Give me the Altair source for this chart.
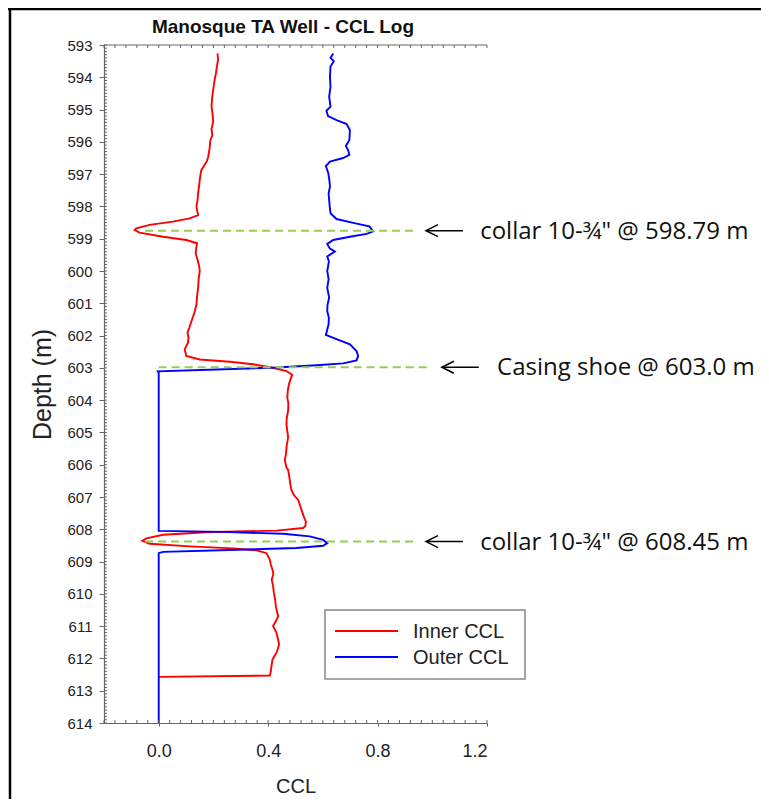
import altair as alt
import pandas as pd

# ---------------- data ----------------
chart_title = "Manosque TA Well - CCL Log"
series_names = ["Inner CCL", "Outer CCL"]
series_colors = ["#ff0000", "#0000ff"]

inner_depth = [593.26, 593.45, 593.65, 593.88, 594.1, 594.4, 594.65, 594.91, 595.15, 595.38,
               595.6, 595.8, 595.94, 596.2, 596.46, 596.6, 596.71, 596.87, 597.0, 597.18,
               597.4, 597.59, 597.8, 598.0, 598.15, 598.27, 598.37, 598.47, 598.57, 598.68,
               598.73, 598.81, 598.94, 599.04, 599.14, 599.3, 599.45, 599.65, 599.86, 600.0,
               600.25, 600.52, 600.8, 601.03, 601.3, 601.55, 601.75, 601.91, 602.05, 602.22,
               602.43, 602.63, 602.74, 602.81, 602.89, 602.99, 603.1, 603.22, 603.35, 603.51,
               603.7, 603.92, 604.1, 604.33, 604.55, 604.75, 604.95, 605.16, 605.4, 605.67,
               605.85, 606.09, 606.16, 606.3, 606.47, 606.6, 606.78, 606.95, 607.09, 607.25,
               607.4, 607.6, 607.76, 607.9, 607.96, 608.04, 608.09, 608.17, 608.28, 608.36,
               608.45, 608.53, 608.59, 608.65, 608.74, 608.94, 609.1, 609.25, 609.4, 609.56,
               609.75, 609.97, 610.2, 610.38, 610.55, 610.69, 610.85, 611.0, 611.2, 611.4,
               611.57, 611.8, 612.03, 612.25, 612.45, 612.53, 612.57]
inner_ccl = [0.215, 0.217, 0.213, 0.209, 0.204, 0.199, 0.195, 0.193, 0.197, 0.199,
             0.193, 0.196, 0.189, 0.186, 0.181, 0.176, 0.168, 0.156, 0.153, 0.150,
             0.147, 0.144, 0.142, 0.138, 0.141, 0.144, 0.113, 0.052, -0.033, -0.082,
             -0.088, -0.070, 0.016, 0.101, 0.140, 0.137, 0.135, 0.142, 0.148, 0.150,
             0.146, 0.144, 0.140, 0.138, 0.130, 0.120, 0.112, 0.105, 0.109, 0.107,
             0.095, 0.101, 0.150, 0.260, 0.345, 0.412, 0.467, 0.488, 0.482, 0.476,
             0.472, 0.470, 0.474, 0.473, 0.468, 0.467, 0.470, 0.473, 0.468, 0.465,
             0.461, 0.467, 0.473, 0.476, 0.479, 0.481, 0.485, 0.495, 0.510, 0.516,
             0.522, 0.530, 0.538, 0.536, 0.528, 0.431, 0.174, 0.016, -0.045, -0.060,
             -0.033, 0.113, 0.272, 0.357, 0.394, 0.406, 0.410, 0.416, 0.419, 0.413,
             0.418, 0.421, 0.426, 0.428, 0.432, 0.437, 0.428, 0.418, 0.430, 0.436,
             0.440, 0.432, 0.416, 0.412, 0.409, 0.406, 0.0]

outer_depth = [593.26, 593.4, 593.5, 593.67, 593.98, 594.29, 594.6, 594.91, 595.04, 595.2,
               595.33, 595.45, 595.64, 595.94, 596.13, 596.25, 596.4, 596.5, 596.61, 596.75,
               596.97, 597.2, 597.38, 597.6, 597.8, 598.0, 598.21, 598.39, 598.51, 598.62,
               598.77, 598.85, 598.94, 599.04, 599.16, 599.3, 599.4, 599.55, 599.7, 599.86,
               600.0, 600.25, 600.52, 600.83, 601.05, 601.24, 601.45, 601.65, 601.85, 601.98,
               602.11, 602.27, 602.48, 602.63, 602.77, 602.86, 602.92, 602.99, 603.05, 603.11,
               603.15, 608.05, 608.08, 608.14, 608.22, 608.33, 608.43, 608.51, 608.58, 608.64,
               608.7, 608.74, 614.0]
outer_ccl = [0.638, 0.628, 0.640, 0.628, 0.626, 0.628, 0.623, 0.628, 0.613, 0.619,
             0.650, 0.687, 0.699, 0.697, 0.684, 0.692, 0.697, 0.674, 0.626, 0.611,
             0.620, 0.624, 0.626, 0.621, 0.623, 0.625, 0.628, 0.650, 0.711, 0.770,
             0.784, 0.760, 0.699, 0.638, 0.616, 0.625, 0.644, 0.616, 0.622, 0.619,
             0.616, 0.621, 0.616, 0.623, 0.617, 0.616, 0.622, 0.621, 0.615, 0.611,
             0.650, 0.699, 0.723, 0.729, 0.723, 0.674, 0.577, 0.431, 0.211, -0.003,
             0.0, 0.0, 0.235, 0.455, 0.552, 0.601, 0.616, 0.601, 0.504, 0.260,
             0.016, 0.0, 0.0]

ann_depth = [598.75, 602.98, 608.38]
ann_dash_x0 = [-0.05, 0.0, -0.05]
ann_dash_x1 = [0.94, 0.99, 0.94]
ann_arrow_x0 = [0.977, 1.035, 0.977]
ann_arrow_x1 = [1.112, 1.170, 1.112]
ann_text_x = [1.175, 1.237, 1.175]
ann_labels = ['collar 10-\u00be" @ 598.79 m', 'Casing shoe @ 603.0 m', 'collar 10-\u00be" @ 608.45 m']

x_ticks = [0.0, 0.4, 0.8, 1.2]
y_ticks = list(range(593, 615))
x_minor = [round(-0.2 + 0.04 * i, 2) for i in range(36)]
y_minor = [round(593 + 0.1 * i, 1) for i in range(211)]

# ---------------- chart ----------------
W, H = 383, 678
AX = "#666666"
FONT = "Liberation Sans"

xs = alt.Scale(domain=[-0.2, 1.2], nice=False, zero=False)
ys = alt.Scale(domain=[593, 614], reverse=True, nice=False, zero=False)
x_axis = alt.Axis(values=x_ticks, format=".1f", title="CCL", labelFontSize=18, tickSize=3,
                  labelPadding=16, titleFontSize=20, titlePadding=16, labelOverlap=False)
y_axis = alt.Axis(values=y_ticks, format="d", title="Depth (m)", labelFontSize=15, tickSize=5,
                  labelPadding=7, titleFontSize=25, titlePadding=11, labelOverlap=False)

frames = []
for name, d, v in [(series_names[0], inner_depth, inner_ccl), (series_names[1], outer_depth, outer_ccl)]:
    frames.append(pd.DataFrame({"series": name, "depth": d, "ccl": v, "idx": range(len(d))}))
df = pd.concat(frames, ignore_index=True)

lines = alt.Chart(df).mark_line(strokeWidth=1.9).encode(
    x=alt.X("ccl:Q", scale=xs, axis=x_axis),
    y=alt.Y("depth:Q", scale=ys, axis=y_axis),
    color=alt.Color("series:N", scale=alt.Scale(domain=series_names, range=series_colors), legend=None),
    order="idx:Q",
)

ymin_df = pd.DataFrame({"depth": y_minor})
xmin_df = pd.DataFrame({"ccl": x_minor})
y_minor_ticks = alt.Chart(ymin_df).mark_rule(color=AX, strokeWidth=1).encode(
    y=alt.Y("depth:Q", scale=ys, axis=y_axis), x=alt.value(0), x2=alt.value(3))
x_minor_bottom = alt.Chart(xmin_df).mark_rule(color=AX, strokeWidth=1).encode(
    x=alt.X("ccl:Q", scale=xs, axis=x_axis), y=alt.value(H), y2=alt.value(H - 3))
x_minor_top = alt.Chart(xmin_df).mark_rule(color=AX, strokeWidth=1).encode(
    x=alt.X("ccl:Q", scale=xs, axis=x_axis), y=alt.value(0), y2=alt.value(3))

one = pd.DataFrame({"k": [0]})
top_line = alt.Chart(one).mark_rule(color=AX, strokeWidth=1.2).encode(
    x=alt.value(0), x2=alt.value(W), y=alt.value(0))
border_left = alt.Chart(one).mark_rule(color="black", strokeWidth=2.5).encode(
    x=alt.value(-94), y=alt.value(-37), y2=alt.value(H + 80))
border_top = alt.Chart(one).mark_rule(color="black", strokeWidth=2.5).encode(
    x=alt.value(-96), x2=alt.value(W + 280), y=alt.value(-36))

ann_df = pd.DataFrame({"depth": ann_depth, "ccl": ann_dash_x0, "ccl2": ann_dash_x1,
                       "ax0": ann_arrow_x0, "ax1": ann_arrow_x1, "tx": ann_text_x,
                       "label": ann_labels})
dashes = alt.Chart(ann_df).mark_rule(color="#92D050", strokeWidth=2, strokeDash=[8, 5]).encode(
    x=alt.X("ccl:Q", scale=xs, axis=x_axis), x2="ccl2:Q", y=alt.Y("depth:Q", scale=ys, axis=y_axis))
shafts = alt.Chart(ann_df).mark_rule(color="black", strokeWidth=1.5).encode(
    x=alt.X("ax0:Q", scale=xs, axis=x_axis), x2="ax1:Q", y=alt.Y("depth:Q", scale=ys, axis=y_axis))
heads = alt.Chart(ann_df).mark_point(shape="M2,-1L0,0L2,1", filled=False, size=144,
                                     color="black", strokeWidth=1.5, opacity=1).encode(
    x=alt.X("ax0:Q", scale=xs, axis=x_axis), y=alt.Y("depth:Q", scale=ys, axis=y_axis))
texts = alt.Chart(ann_df).mark_text(align="left", baseline="middle", font="Open Sans",
                                    fontSize=24, color="#111111", dy=1).encode(
    x=alt.X("tx:Q", scale=xs, axis=x_axis), y=alt.Y("depth:Q", scale=ys, axis=y_axis), text="label:N")

title_mark = alt.Chart(pd.DataFrame({"t": [chart_title]})).mark_text(
    font=FONT, fontWeight="bold", fontSize=19, align="center", baseline="alphabetic", color="#111111"
).encode(x=alt.value(179), y=alt.value(-12), text="t:N")

# legend box drawn as marks
leg_box = alt.Chart(one).mark_rect(fill="white", stroke="#888888", strokeWidth=1.5).encode(
    x=alt.value(221), x2=alt.value(421), y=alt.value(565), y2=alt.value(634))
leg_layers = [leg_box]
for i, (nm, col) in enumerate(zip(series_names, series_colors)):
    yy = 586 + 26 * i
    ldf = pd.DataFrame({"name": [nm]})
    leg_layers.append(alt.Chart(ldf).mark_rule(color=col, strokeWidth=2).encode(
        x=alt.value(231), x2=alt.value(294), y=alt.value(yy)))
    leg_layers.append(alt.Chart(ldf).mark_text(font=FONT, fontSize=20, align="left",
                                               baseline="middle", color="#222222").encode(
        x=alt.value(309), y=alt.value(yy + 1), text="name:N"))

chart = alt.layer(
    lines, border_left, border_top, top_line, y_minor_ticks, x_minor_bottom, x_minor_top,
    dashes, shafts, heads, texts, title_mark, *leg_layers
).properties(
    width=W, height=H,
    padding={"left": 96, "top": 37, "right": 274, "bottom": 76},
    autosize=alt.AutoSizeParams(type="none"),
).configure_view(stroke=None).configure_axis(
    grid=False, domainColor=AX, tickColor=AX, labelColor="#222222", titleColor="#222222",
    labelFont=FONT, titleFont=FONT, titleFontWeight="normal", domainWidth=1.2
)

chart.save("out.html", embed_options={"renderer": "svg", "actions": False})
